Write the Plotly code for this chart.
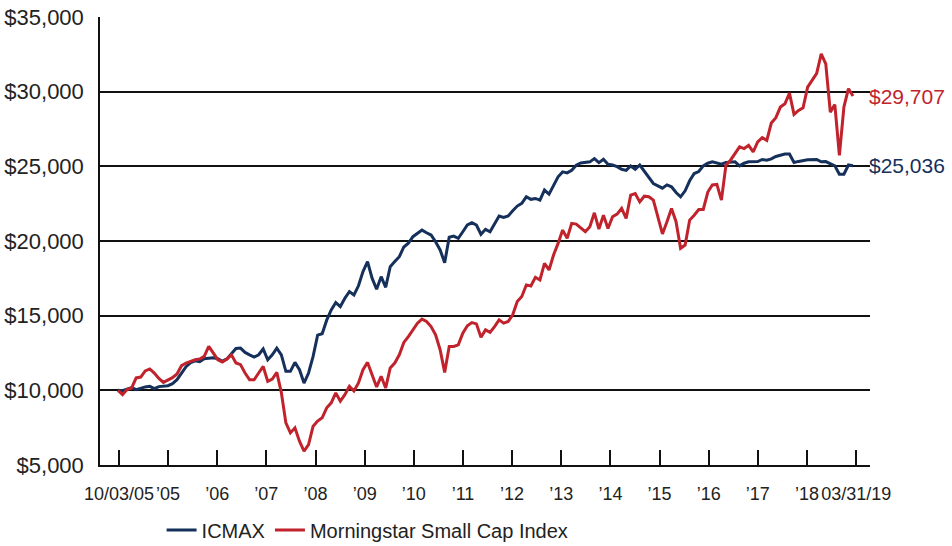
import numpy as np
import plotly.graph_objects as go

# ---- data (month index from 10/03/05 start, value of $10,000 investment) ----
icmax_month = [0, 1, 3, 4, 6, 7, 8, 9, 11, 12, 13, 14, 15, 16, 17, 18, 19, 21, 22, 23,
               24, 25, 26, 27, 28, 29, 30, 31, 32, 33, 34, 35, 36, 37, 38, 39, 40, 41, 42, 43,
               44, 45, 46, 47, 48, 49, 50, 51, 52, 53, 54, 55, 56, 57, 58, 59, 60, 61, 62, 63,
               64, 65, 66, 67, 68, 69, 70, 71, 72, 73, 74, 75, 76, 77, 78, 79, 80, 81, 82, 83,
               84, 85, 86, 87, 88, 89, 90, 91, 92, 93, 94, 95, 96, 97, 98, 99, 100, 101, 102, 104,
               105, 106, 107, 108, 109, 110, 111, 112, 113, 114, 115, 116, 117, 118, 120, 121, 122, 123, 124, 125,
               126, 127, 128, 129, 130, 131, 133, 134, 136, 137, 138, 139, 141, 142, 143, 144, 145, 146, 147, 148,
               149, 150, 151, 152, 154, 155, 156, 157, 158, 159, 160, 161, 162]
icmax_value = [10000, 9980, 10180, 10050, 10230, 10270, 10110, 10250, 10310, 10450, 10710, 11180, 11580, 11850, 11980, 11920, 12120, 12180, 12120, 11950,
               12100, 12450, 12800, 12830, 12540, 12380, 12230, 12380, 12770, 12050, 12380, 12830, 12380, 11270, 11270, 11870, 11380, 10490, 11160, 12270,
               13700, 13790, 14700, 15390, 15880, 15610, 16170, 16610, 16390, 17000, 17950, 18620, 17510, 16770, 17610, 16900, 18280, 18620, 18950, 19600,
               19850, 20290, 20500, 20730, 20550, 20400, 19950, 19400, 18550, 20250, 20330, 20180, 20620, 21070, 21220, 21070, 20450, 20780, 20620, 21180,
               21670, 21580, 21670, 22020, 22340, 22520, 22960, 22790, 22850, 22740, 23410, 23140, 23740, 24300, 24630, 24560, 24740, 25080, 25230, 25300,
               25520, 25250, 25470, 25140, 25090, 24980, 24800, 24730, 25020, 24800, 25090, 24690, 24290, 23850, 23540, 23760, 23630, 23250, 22960, 23360,
               24030, 24520, 24650, 25030, 25210, 25300, 25150, 25260, 25300, 25030, 25210, 25300, 25320, 25460, 25410, 25500, 25660, 25730, 25820, 25820,
               25260, 25330, 25370, 25440, 25460, 25300, 25320, 25190, 25030, 24470, 24470, 25090, 25036]

msci_month = list(range(0, 102)) + list(range(103, 163))
msci_value = [10000, 9710, 10050, 10160, 10830, 10890, 11300, 11430, 11160, 10800, 10530, 10710, 10850, 11100, 11650, 11830, 11950, 12050, 12100, 12270,
              12940, 12500, 12050, 11900, 12100, 12380, 11830, 11720, 11160, 10710, 10710, 11160, 11600, 10600, 10760, 11200, 9850, 7820, 7150, 7490,
              6600, 5930, 6370, 7600, 7940, 8160, 8830, 9160, 9830, 9270, 9710, 10270, 9950, 10500, 11380, 11870, 11050, 10230, 10940, 10160,
              11500, 11830, 12380, 13210, 13600, 14050, 14500, 14770, 14610, 14270, 13720, 12720, 11200, 12940, 12940, 13050, 13830, 14320, 14540, 14450,
              13550, 14050, 13880, 14270, 14720, 14500, 14610, 15060, 15950, 16280, 17060, 16990, 17570, 17390, 18500, 18060, 19060, 19840, 20730, 20180,
              21180, 21130, 20620, 20950, 21890, 20800, 21730, 20840, 21620, 21800, 22180, 21510, 23070, 23180, 22620, 23000, 22960, 22740, 21620, 20470,
              21290, 22180, 21290, 19510, 19730, 21400, 21730, 22110, 22110, 23280, 23750, 23790, 22740, 25080, 25410, 25860, 26300, 26190, 26410, 25970,
              26630, 26920, 26740, 27900, 28260, 28970, 29190, 29900, 28480, 28740, 28920, 30300, 30790, 31230, 32530, 31860, 28630, 29140, 25740, 28970,
              30200, 29707]

series_names = ["ICMAX", "Morningstar Small Cap Index"]
tick_labels = ["10/03/05", "\u201905", "\u201906", "\u201907", "\u201908", "\u201909", "\u201910", "\u201911",
               "\u201912", "\u201913", "\u201914", "\u201915", "\u201916", "\u201917", "\u201918", "03/31/19"]

NAVY = "#15305A"
RED = "#C1232D"
FONT = "Liberation Sans, Arial, sans-serif"

fig = go.Figure()
fig.add_trace(go.Scatter(x=icmax_month, y=icmax_value, mode="lines", name=series_names[0],
                         line=dict(color=NAVY, width=3)))
fig.add_trace(go.Scatter(x=msci_month, y=msci_value, mode="lines", name=series_names[1],
                         line=dict(color=RED, width=3)))

# end labels
for xs, ys, col in [(icmax_month, icmax_value, NAVY), (msci_month, msci_value, RED)]:
    fig.add_annotation(x=xs[-1], y=ys[-1], text="${:,}".format(ys[-1]), showarrow=False,
                       xanchor="left", yanchor="middle", xshift=14,
                       font=dict(family=FONT, size=21, color=col))

tickvals = np.linspace(0.2, 162.7, len(tick_labels))

fig.update_layout(
    width=952, height=546,
    margin=dict(l=100, r=82, t=17, b=81, autoexpand=False),
    paper_bgcolor="white", plot_bgcolor="white",
    font=dict(family=FONT, color="#222222"),
    showlegend=True,
    legend=dict(orientation="h", x=0.080, xanchor="left", y=-0.145, yanchor="middle",
                font=dict(family=FONT, size=20, color="#222222"), bgcolor="rgba(0,0,0,0)"),
    xaxis=dict(range=[-3.97, 165.75], tickmode="array", tickvals=tickvals, ticktext=tick_labels,
               tickangle=0, automargin=False,
               showgrid=False, zeroline=False, showline=True, linecolor="#111111", linewidth=1.5,
               ticks="inside", ticklen=15, tickwidth=1.5, tickcolor="#111111",
               tickfont=dict(family=FONT, size=18, color="#222222"), ticklabelstandoff=12),
    yaxis=dict(range=[5000, 35000], tickmode="linear", tick0=5000, dtick=5000, automargin=False,
               tickprefix="$", tickformat=",d", showgrid=True, gridcolor="#111111", gridwidth=1.5,
               zeroline=False, showline=True, linecolor="#111111", linewidth=1.5, ticks="",
               tickfont=dict(family=FONT, size=22, color="#222222"), ticklabelstandoff=10),
)

# remove the default 8px page margin so the figure sits at the window's top-left corner
fig.write_html("out.html", config={"displayModeBar": False},
               post_script="document.body.style.margin='0';document.body.style.overflow='hidden';")
